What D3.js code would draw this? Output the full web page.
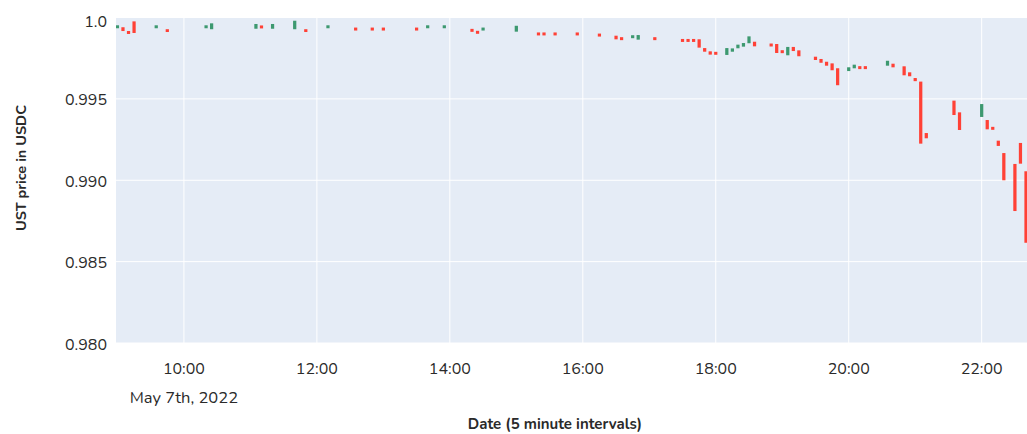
<!DOCTYPE html>
<html><head><meta charset="utf-8">
<script src="https://cdn.jsdelivr.net/npm/d3@7"></script>
<style>
html,body{margin:0;padding:0;background:#fff;}
text{font-family:Nunito, Lato, "Open Sans", sans-serif;}
</style></head>
<body><svg id="chart" width="1027" height="434"></svg>
<script>
// ---- data (5-minute candles, May 7th 2022) ----
const times = ["09:00","09:05","09:10","09:15","09:35","09:45","10:20","10:25","11:05","11:10","11:20","11:40","11:50",
"12:10","12:35","12:50","13:00","13:30","13:40","13:55","14:20","14:25","14:30","15:00",
"15:20","15:25","15:35","15:55","16:15","16:30","16:35","16:45","16:50","17:05",
"17:30","17:35","17:40","17:45","17:50","17:55","18:00","18:10","18:15","18:20","18:25","18:30","18:35",
"18:50","18:55","19:00","19:05","19:10","19:15","19:30","19:35","19:40","19:45","19:50",
"20:00","20:05","20:10","20:15","20:35","20:40","20:50","20:55","21:00","21:05","21:10",
"21:35","21:40","22:00","22:05","22:10","22:15","22:20","22:30","22:35","22:40"];
const openP = [0.99940,0.99934,0.99911,0.99970,0.99940,0.99922,0.99940,0.99934,0.99937,0.99945,0.99937,0.99934,0.99922,
0.99940,0.99932,0.99932,0.99932,0.99932,0.99940,0.99940,0.99924,0.99912,0.99926,0.99919,
0.99902,0.99902,0.99902,0.99902,0.99895,0.99882,0.99873,0.99879,0.99870,0.99873,
0.99862,0.99862,0.99862,0.99860,0.99806,0.99786,0.99783,0.99776,0.99796,0.99817,0.99827,0.99848,0.99845,
0.99834,0.99831,0.99793,0.99774,0.99813,0.99792,0.99753,0.99739,0.99722,0.99712,0.99682,
0.99677,0.99694,0.99695,0.99695,0.99710,0.99710,0.99694,0.99657,0.99622,0.99600,0.99284,
0.99483,0.99411,0.99395,0.99364,0.99322,0.99237,0.99161,0.99094,0.99223,0.99049];
const closeP = [0.99946,0.99923,0.99905,0.99911,0.99946,0.99917,0.99946,0.99958,0.99954,0.99939,0.99954,0.99974,0.99917,
0.99946,0.99926,0.99926,0.99926,0.99926,0.99946,0.99946,0.99918,0.99906,0.99932,0.99943,
0.99896,0.99896,0.99896,0.99896,0.99889,0.99872,0.99867,0.99885,0.99886,0.99867,
0.99856,0.99856,0.99856,0.99821,0.99796,0.99778,0.99777,0.99806,0.99804,0.99827,0.99837,0.99878,0.99829,
0.99828,0.99788,0.99787,0.99813,0.99800,0.99768,0.99745,0.99728,0.99710,0.99682,0.99590,
0.99688,0.99704,0.99689,0.99689,0.99728,0.99700,0.99651,0.99645,0.99615,0.99231,0.99264,
0.99407,0.99315,0.99462,0.99319,0.99316,0.99217,0.99006,0.98817,0.99108,0.98622];
const highP = openP.map((o,i)=>Math.max(o,closeP[i]));
const lowP = openP.map((o,i)=>Math.min(o,closeP[i]));
const yTicks = [0.980,0.985,0.990,0.995,1.0];
const yTickLabels = ["0.980","0.985","0.990","0.995","1.0"];
const xTicks = ["10:00","12:00","14:00","16:00","18:00","20:00","22:00"];
const dateLabel = "May 7th, 2022";
const yTitle = "UST price in USDC";
const xTitle = "Date (5 minute intervals)";

// ---- layout ----
const W = 1027, H = 434;
const L = 116, R = 1027, T = 17.5, B = 343;
const parseT = s => new Date(2022, 4, 7, +s.slice(0,2), +s.slice(3,5));
const x = d3.scaleTime()
  .domain([new Date(2022,4,7,8,58,42), new Date(2022,4,7,22,40,54)])
  .range([L, R]);
const y = d3.scaleLinear().domain([0.980, 1.0]).range([B, T]);

const svg = d3.select("#chart");
svg.append("rect").attr("x",L).attr("y",T).attr("width",R-L).attr("height",B-T).attr("fill","#E5ECF6");

const defs = svg.append("defs");
defs.append("clipPath").attr("id","clip").append("rect")
  .attr("x",L).attr("y",T-2).attr("width",R-L).attr("height",B-T+4);

// gridlines
const grid = svg.append("g");
grid.selectAll("line.h").data(yTicks).join("line")
  .attr("x1",L).attr("x2",R).attr("y1",d=>y(d)).attr("y2",d=>y(d))
  .attr("stroke","#fff").attr("stroke-width",1);
grid.selectAll("line.v").data(xTicks).join("line")
  .attr("x1",d=>x(parseT(d))).attr("x2",d=>x(parseT(d))).attr("y1",T).attr("y2",B)
  .attr("stroke","#fff").attr("stroke-width",1);

// candles
const data = times.map((t,i)=>({t:parseT(t), o:openP[i], c:closeP[i], h:highP[i], l:lowP[i]}));
const step = x(parseT("09:05")) - x(parseT("09:00"));
const bw = step*0.22;
const cg = svg.append("g").attr("clip-path","url(#clip)");
const col = d => d.c >= d.o ? "#3D9970" : "#FF4136";
cg.selectAll("line.wick").data(data).join("line")
  .attr("x1",d=>x(d.t)).attr("x2",d=>x(d.t))
  .attr("y1",d=>y(d.h)).attr("y2",d=>y(d.l))
  .attr("stroke",col).attr("stroke-width",2);
cg.selectAll("rect.body").data(data).join("rect")
  .attr("x",d=>x(d.t)-bw/2).attr("width",bw)
  .attr("y",d=>y(Math.max(d.o,d.c)))
  .attr("height",d=>Math.max(0.01, Math.abs(y(d.o)-y(d.c))))
  .attr("fill",col).attr("stroke",col).attr("stroke-width",2);

// y tick labels
svg.append("g").selectAll("text").data(yTicks).join("text")
  .attr("x",107).attr("y",(d,i)=>y(d)+ (i===4?4:1)).attr("dy","0.35em")
  .attr("text-anchor","end").attr("font-size",16).attr("fill","#2a2a2a")
  .text((d,i)=>yTickLabels[i]);

// x tick labels
svg.append("g").selectAll("text").data(xTicks).join("text")
  .attr("x",d=>x(parseT(d))).attr("y",368).attr("dy","0.35em")
  .attr("text-anchor","middle").attr("font-size",16).attr("fill","#2a2a2a")
  .text(d=>d);
svg.append("text").attr("x",x(parseT(xTicks[0]))).attr("y",397).attr("dy","0.35em")
  .attr("text-anchor","middle").attr("font-size",16.5).attr("fill","#2a2a2a").text(dateLabel);

// axis titles
svg.append("text").attr("transform","translate(21,168) rotate(-90)").attr("dy","0.35em")
  .attr("text-anchor","middle").attr("font-size",14.5).attr("font-weight","bold").attr("fill","#2a2a2a")
  .text(yTitle);
svg.append("text").attr("x",555).attr("y",424).attr("dy","0.35em")
  .attr("text-anchor","middle").attr("font-size",15).attr("font-weight","bold").attr("fill","#2a2a2a")
  .text(xTitle);
</script></body></html>
